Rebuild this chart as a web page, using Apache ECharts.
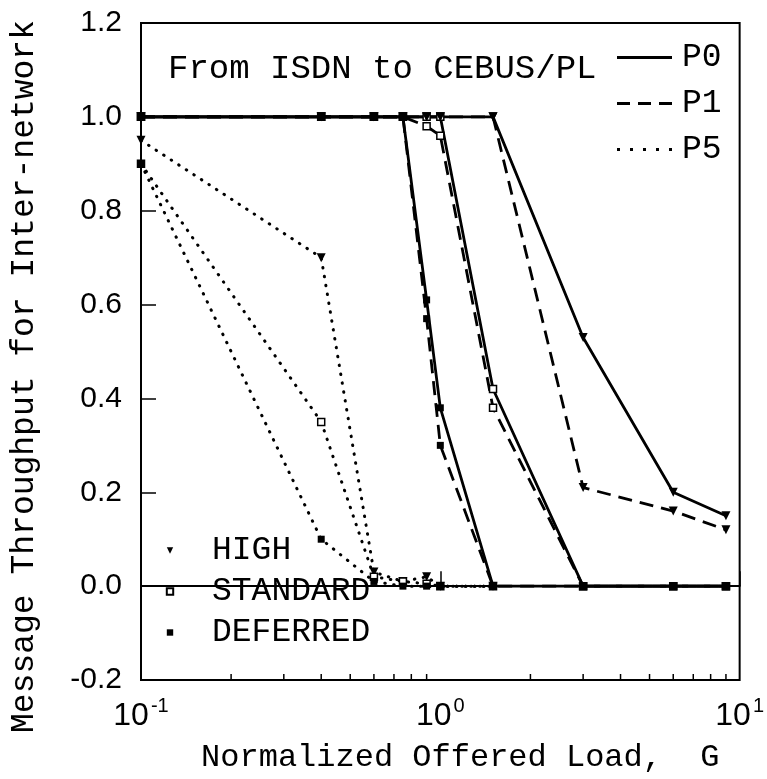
<!DOCTYPE html>
<html>
<head>
<meta charset="utf-8">
<script src="https://cdn.jsdelivr.net/npm/echarts@6/dist/echarts.min.js"></script>
<style>html,body{margin:0;padding:0;background:#fff}#c{width:767px;height:779px}</style>
</head>
<body>
<div id="c"></div>
<script>
// ---- data ----
const loadG = [0.1, 0.4, 0.6, 0.75, 0.9, 1.0, 1.5, 3, 6, 9];
const p0High     = [1, 1, 1, 1, 1, 1, 1, 0.53, 0.20, 0.15];
const p1High     = [1, 1, 1, 1, 1, 1, 1, 0.21, 0.16, 0.12];
const p0Standard = [1, 1, 1, 1, 1, 1, 0.42, 0, 0, 0];
const p1Standard = [1, 1, 1, 1, 0.98, 0.96, 0.38, 0, 0, 0];
const p0Deferred = [1, 1, 1, 1, 0.61, 0.38, 0, 0, 0, 0];
const p1Deferred = [1, 1, 1, 1, 0.57, 0.30, 0, 0, 0, 0];
const p5High     = [0.95, 0.70, 0.03, 0.01, 0.02, 0.0, 0.0];
const p5Standard = [0.90, 0.35, 0.02, 0.01, 0.005, 0.0, 0.0];
const p5Deferred = [0.90, 0.10, 0.01, 0.0, 0.0, 0.0, 0.0];
const minorTickValues = [0.2,0.3,0.4,0.5,0.6,0.7,0.8,0.9,2,3,4,5,6,7,8,9];
const yTicks = {min: -0.2, max: 1.2, step: 0.2};

const mono = 'Liberation Mono';
const sans = 'Liberation Sans';
const pair = (ys) => ys.map((y, i) => [loadG[i], y]);

const lineTypes = {
  P0: {type: 'solid', width: 2.8},
  P1: {type: [14, 8], width: 2.8},
  P5: {type: [0.5, 8.5], width: 3, cap: 'round'}
};
// legend sample icons (55 x 3)
const legendIcons = {
  P0: 'path://M0,0H55V3H0Z',
  P1: 'path://M0,0H13V3H0Z M21,0H34V3H21Z M42,0H55V3H42Z',
  P5: 'path://M0,0H3V3H0Z M13,0H16V3H13Z M26,0H29V3H26Z M39,0H42V3H39Z M52,0H55V3H52Z'
};
const marks = {
  HIGH: {symbol: 'path://M0,0L10,0L5,9Z', size: 9, itemStyle: {color: '#000'}},
  STANDARD: {symbol: 'rect', size: 7, itemStyle: {color: '#fff', borderColor: '#000', borderWidth: 1.5}},
  DEFERRED: {symbol: 'rect', size: 7, itemStyle: {color: '#000'}}
};

function mk(name, p, cls, ys) {
  return {
    name: name, type: 'line', data: pair(ys),
    symbol: marks[cls].symbol, symbolSize: marks[cls].size,
    itemStyle: marks[cls].itemStyle,
    lineStyle: Object.assign({color: '#000'}, lineTypes[p]),
    showSymbol: true, animation: false, z: 3
  };
}

const series = [
  mk('P0 STANDARD', 'P0', 'STANDARD', p0Standard),
  mk('P1 STANDARD', 'P1', 'STANDARD', p1Standard),
  mk('P0 DEFERRED', 'P0', 'DEFERRED', p0Deferred),
  mk('P1 DEFERRED', 'P1', 'DEFERRED', p1Deferred),
  mk('P0 HIGH', 'P0', 'HIGH', p0High),
  mk('P1 HIGH', 'P1', 'HIGH', p1High),
  mk('P5 HIGH', 'P5', 'HIGH', p5High),
  mk('P5 STANDARD', 'P5', 'STANDARD', p5Standard),
  mk('P5 DEFERRED', 'P5', 'DEFERRED', p5Deferred),
  // legend-only series
  {name: 'P0', type: 'line', data: [], symbol: 'none', itemStyle: {color: '#000'}},
  {name: 'P1', type: 'line', data: [], symbol: 'none', itemStyle: {color: '#000'}},
  {name: 'P5', type: 'line', data: [], symbol: 'none', itemStyle: {color: '#000'}},
  {name: 'HIGH', type: 'line', data: [], symbol: marks.HIGH.symbol, itemStyle: marks.HIGH.itemStyle},
  {name: 'STANDARD', type: 'line', data: [], symbol: marks.STANDARD.symbol, itemStyle: marks.STANDARD.itemStyle},
  {name: 'DEFERRED', type: 'line', data: [], symbol: marks.DEFERRED.symbol, itemStyle: marks.DEFERRED.itemStyle},
  // minor log ticks on the x axis
  {
    type: 'custom', silent: true, animation: false, z: 5,
    data: minorTickValues.map(v => [v, yTicks.min]),
    encode: {x: 0, y: 1},
    renderItem: function (params, api) {
      const p = api.coord([api.value(0), api.value(1)]);
      return {type: 'line', shape: {x1: p[0], y1: p[1], x2: p[0], y2: p[1] - 6},
              style: {stroke: '#000', lineWidth: 1.5}};
    }
  }
];

const chart = echarts.init(document.getElementById('c'), null, {renderer: 'canvas'});
chart.setOption({
  backgroundColor: '#fff',
  animation: false,
  grid: {left: 140, right: 24, top: 23, bottom: 94, show: true, borderColor: '#000', borderWidth: 2, containLabel: false},
  title: {
    text: 'From ISDN to CEBUS/PL', left: 163, top: 47,
    textStyle: {fontFamily: mono, fontSize: 34, fontWeight: 'normal', color: '#000'}
  },
  legend: [
    {
      orient: 'vertical', left: 612, top: 36,
      data: [
        {name: 'P0', icon: legendIcons.P0},
        {name: 'P1', icon: legendIcons.P1},
        {name: 'P5', icon: legendIcons.P5}
      ],
      itemWidth: 55, itemHeight: 3, itemGap: 13,
      textStyle: {fontFamily: mono, fontSize: 33, color: '#000', padding: [0, 0, 0, 5], lineHeight: 32},
      selectedMode: false
    },
    {
      data: ['HIGH', 'STANDARD', 'DEFERRED'], orient: 'vertical', left: 160, top: 529,
      itemWidth: 8, itemHeight: 8, itemGap: 8,
      lineStyle: {opacity: 0},
      textStyle: {fontFamily: mono, fontSize: 33, color: '#000', padding: [0, 0, 0, 33], lineHeight: 32},
      selectedMode: false
    }
  ],
  xAxis: {
    type: 'log', logBase: 10, min: 0.1, max: 10,
    name: 'Normalized Offered Load,  G', nameLocation: 'middle', nameGap: 62,
    nameTextStyle: {fontFamily: mono, fontSize: 32, color: '#000', padding: [0, 0, 0, 40]},
    axisLine: {lineStyle: {color: '#000', width: 2}},
    axisTick: {inside: true, length: 15, lineStyle: {color: '#000', width: 1.5}},
    splitLine: {show: false},
    axisLabel: {
      margin: 16,
      formatter: function (v) {
        const e = Math.round(Math.log10(v));
        return '{b|10}{s|' + e + '}';
      },
      rich: {
        b: {fontFamily: sans, fontSize: 32, color: '#000', verticalAlign: 'bottom', lineHeight: 36},
        s: {fontFamily: sans, fontSize: 20, color: '#000', verticalAlign: 'top', lineHeight: 36, padding: [0, 0, 18, 2]}
      }
    }
  },
  yAxis: {
    type: 'value', min: yTicks.min, max: yTicks.max, interval: yTicks.step,
    name: 'Message Throughput for Inter-network', nameLocation: 'middle', nameGap: 100,
    nameTextStyle: {fontFamily: mono, fontSize: 33, color: '#000', padding: [0, 50, 0, 0]},
    axisLine: {show: true, lineStyle: {color: '#000', width: 2}},
    axisTick: {show: true, inside: true, length: 15, lineStyle: {color: '#000', width: 1.5}},
    splitLine: {show: false},
    axisLabel: {
      margin: 19, fontFamily: sans, fontSize: 30, color: '#000',
      formatter: v => (Math.abs(v) < 1e-9 ? 0 : v).toFixed(1)
    }
  },
  series: series
});
</script>
</body>
</html>
